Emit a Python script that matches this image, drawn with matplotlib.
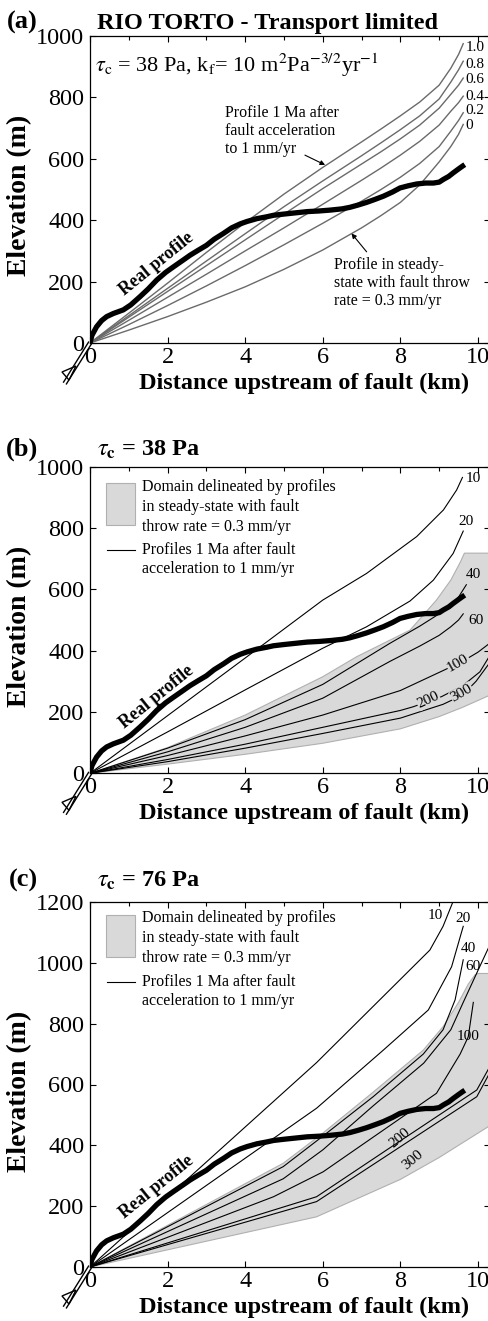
import numpy as np
import matplotlib
matplotlib.use('Agg')
import matplotlib.pyplot as plt
from matplotlib.ticker import MultipleLocator
from matplotlib.patches import Rectangle, Polygon
from matplotlib.lines import Line2D
from matplotlib.transforms import IdentityTransform

plt.rcParams['font.family'] = ['Liberation Serif', 'DejaVu Serif']
plt.rcParams['mathtext.fontset'] = 'stix'

# ---------------- data ----------------
real_x = [0, 0.05, 0.17, 0.3, 0.43, 0.6, 0.86, 1.05, 1.29, 1.5, 1.72, 1.95, 2.15, 2.4, 2.58, 2.8, 3.0,
          3.2, 3.44, 3.65, 3.87, 4.05, 4.3, 4.55, 4.73, 5.0, 5.3, 5.6, 5.9, 6.2, 6.5, 6.7, 6.9, 7.13,
          7.35, 7.56, 7.8, 7.99, 8.2, 8.42, 8.65, 8.85, 9.0, 9.11, 9.25, 9.36, 9.5, 9.6, 9.66]
real_y = [0, 25, 53, 73, 86, 96, 108, 124, 151, 176, 205, 230, 248, 270, 286, 303, 318,
          338, 357, 375, 388, 396, 405, 411, 416, 420, 424, 428, 430, 433, 437, 442, 449, 458,
          468, 478, 492, 505, 512, 518, 521, 521, 524, 533, 543, 554, 567, 576, 581]

# panel (a): profiles at successive times (Ma)
a_labels = ['1.0', '0.8', '0.6', '0.4', '0.2', '0']
a_x = [0, 1, 2, 3, 4, 5, 6, 7, 7.5, 8, 8.5, 9, 9.3, 9.5, 9.62]
a_curves = [
    [0, 97, 195, 295, 392, 485, 572, 655, 697, 740, 785, 840, 895, 940, 975],
    [0, 89, 178, 267, 356, 444, 528, 610, 652, 695, 740, 795, 850, 890, 918],
    [0, 84, 168, 252, 336, 420, 503, 583, 623, 665, 710, 765, 810, 840, 863],
    [0, 74, 149, 224, 300, 375, 452, 530, 570, 612, 657, 710, 755, 783, 804],
    [0, 60, 122, 186, 252, 320, 390, 462, 500, 540, 585, 640, 690, 725, 750],
    [0, 42, 86, 133, 183, 240, 303, 375, 415, 458, 515, 590, 640, 680, 712],
]
a_label_y = [962, 908, 859, 804, 756, 707]

# panel (b): tau_c = 38 Pa
b_dom_top_x = [0, 2, 4, 6, 6.87, 8.25, 8.93, 9.3, 9.55, 9.65, 10.31]
b_dom_top_y = [0, 84, 190, 315, 380, 467, 565, 630, 690, 718, 718]
b_dom_bot_x = [0, 2, 4, 6, 8, 9, 9.6, 10.31]
b_dom_bot_y = [0, 30, 62, 98, 145, 185, 215, 255]
b_names = ['10', '20', '40', '60', '100', '200', '300']
b_curves_x = [
    [0, 2, 4, 6, 7.13, 8.42, 9.11, 9.45, 9.6],
    [0, 2, 4, 6, 7.13, 8.25, 8.85, 9.36, 9.62],
    [0, 2, 4, 6, 7.73, 8.5, 9.0, 9.28, 9.5, 9.7],
    [0, 2, 4, 6, 7.73, 8.5, 9.0, 9.3, 9.5, 9.62],
    [0, 2, 4, 6, 8, 9.1, 9.6, 10.0, 10.31],
    [0, 2, 4, 6, 8, 8.33, 9.06, 9.6, 10.05, 10.31],
    [0, 2, 4, 6, 8, 9.1, 9.6, 9.95, 10.31],
]
b_curves_y = [
    [0, 188, 376, 565, 652, 772, 859, 924, 965],
    [0, 135, 272, 408, 478, 562, 630, 717, 790],
    [0, 82, 175, 290, 424, 480, 520, 540, 575, 615],
    [0, 70, 150, 245, 365, 415, 450, 478, 500, 520],
    [0, 58, 122, 190, 270, 335, 365, 395, 425],
    [0, 45, 95, 150, 205, 217, 250, 285, 331, 385],
    [0, 38, 82, 130, 180, 225, 255, 300, 362],
]
b_lab_xy = [(9.88, 960), (9.68, 822), (9.87, 647), (9.94, 497), (9.49, 360), (8.72, 239), (9.58, 262)]
b_lab_rot = [0, 0, 0, 0, 30, 25, 30]

# panel (c): tau_c = 76 Pa
c_dom_top_x = [0, 4.98, 6, 7.3, 8.59, 9.1, 9.5, 9.75, 9.92, 10.0, 10.31]
c_dom_top_y = [0, 341, 440, 575, 713, 790, 870, 930, 960, 965, 965]
c_dom_bot_x = [0, 5.84, 8, 9, 10.31]
c_dom_bot_y = [0, 165, 288, 360, 465]
c_names = ['10', '20', '40', '60', '100', '200', '300']
c_curves_x = [
    [0, 5.84, 8.76, 9.1, 9.4],
    [0, 5.84, 7.56, 8.72, 9.32, 9.62],
    [0, 4.98, 6, 7.3, 8.59, 9.1, 9.41, 9.62],
    [0, 4.98, 6, 7.3, 8.6, 9.3, 9.62, 10.0, 10.31],
    [0, 4.73, 6.01, 8.93, 9.54, 9.75, 9.88],
    [0, 5.84, 7.99, 9.97, 10.31],
    [0, 5.84, 8.33, 9.97, 10.31],
]
c_curves_y = [
    [0, 672, 1042, 1120, 1215],
    [0, 522, 713, 845, 987, 1120],
    [0, 330, 430, 560, 700, 780, 878, 1010],
    [0, 290, 385, 530, 670, 780, 870, 975, 1060],
    [0, 231, 313, 571, 700, 757, 870],
    [0, 231, 414, 582, 660],
    [0, 215, 423, 560, 640],
]
c_lab_xy = [(8.89, 1157), (9.62, 1146), (9.75, 1048), (9.88, 987), (9.75, 757), (7.99, 425), (8.33, 352)]
c_lab_rot = [0, 0, 0, 0, 0, 40, 40]

# ---------------- figure ----------------
W, H = 489, 1321
fig = plt.figure(figsize=(W / 100, H / 100), dpi=100)

def px_axes(left, right, top, bottom):
    return fig.add_axes([left / W, 1 - bottom / H, (right - left) / W, (bottom - top) / H])

FILL = '#d9d9d9'
FILL_EDGE = '#b0b0b0'

def setup(ax, ymax, xlab_off):
    ax.set_xlim(0, 10.31)
    ax.set_ylim(0, ymax)
    ax.set_xticks([0, 2, 4, 6, 8, 10])
    ax.xaxis.set_minor_locator(MultipleLocator(1))
    ax.set_yticks(list(range(0, ymax + 1, 200)))
    ax.tick_params(which='both', direction='in', top=True, right=True, labelsize=17.5, length=4,
                   width=0.8)
    ax.tick_params(which='minor', bottom=False, length=3)
    ax.tick_params(axis='x', pad=3)
    ax.tick_params(axis='y', pad=4)
    for s in ax.spines.values():
        s.set_linewidth(0.9)
    ax.set_xlabel('Distance upstream of fault (km)', fontsize=17.5, fontweight='bold')
    ax.xaxis.set_label_coords(0.536, xlab_off)
    ax.xaxis.label.set_verticalalignment('center')
    ax.set_ylabel('Elevation (m)', fontsize=20, fontweight='bold')
    ax.yaxis.set_label_coords(-0.175, 0.48)
    ax.yaxis.label.set_verticalalignment('center')

def fault(ax):
    ox, oy = ax.transData.transform((0, 0))
    d = np.array([-25.0, -40.0])
    n = np.array([40.0, -25.0]) / np.hypot(40, 25)
    for off in (-1.7, 1.7):
        p0 = np.array([ox, oy]) + off * n
        p1 = p0 + d
        fig.add_artist(Line2D([p0[0], p1[0]], [p0[1], p1[1]], transform=IdentityTransform(),
                              color='k', lw=1.0))
    tri = np.array([[-28, -29], [-14, -23], [-21, -37]], dtype=float) + [ox, oy]
    fig.add_artist(Polygon(tri, closed=True, transform=IdentityTransform(), facecolor='white',
                           edgecolor='k', lw=1.0))

def real_profile(ax, ytxt):
    ax.plot(real_x, real_y, color='k', lw=3.8, solid_capstyle='butt', zorder=5)
    ax.text(1.72, ytxt, 'Real profile', rotation=39, fontsize=13, fontweight='bold',
            ha='center', va='center', rotation_mode='anchor', zorder=6)

def legend(ax, rect_top, rect_bot, t1, l2):
    ax.add_patch(Rectangle((0.04, rect_bot), 0.0725, rect_top - rect_bot, transform=ax.transAxes,
                           facecolor=FILL, edgecolor=FILL_EDGE, lw=0.8, zorder=3))
    for i, s in enumerate(['Domain delineated by profiles', 'in steady-state with fault',
                           'throw rate = 0.3 mm/yr']):
        ax.text(0.13, t1 - i * 20 / ax.bbox.height, s, transform=ax.transAxes, fontsize=11.5,
                va='center', ha='left')
    ax.add_line(Line2D([0.0425, 0.1125], [l2, l2], transform=ax.transAxes, color='k', lw=0.8))
    for i, s in enumerate(['Profiles 1 Ma after fault', 'acceleration to 1 mm/yr']):
        ax.text(0.13, l2 - i * 19 / ax.bbox.height, s, transform=ax.transAxes, fontsize=11.5,
                va='center', ha='left')

def px2fig(x, y):
    return x / W, 1 - y / H

# ---------- panel (a) ----------
axa = px_axes(90, 490, 36, 343)
setup(axa, 1000, -0.13)
for ys, lab, ly in zip(a_curves, a_labels, a_label_y):
    axa.plot(a_x, ys, color='#6a6a6a', lw=1.0)
    axa.text(9.68, ly, lab, fontsize=11, ha='left', va='center')
real_profile(axa, 258)
axa.text(0.13, 883, r'$\tau_{\rm c}$ = 38 Pa, k$_{\rm f}$= 10 m$^{2}$Pa$^{-3/2}$yr$^{-1}$',
         fontsize=16, ha='left', va='baseline')
axa.text(3.48, 690, 'Profile 1 Ma after\nfault acceleration\nto 1 mm/yr', fontsize=11.5,
         ha='left', va='center', linespacing=1.15)
axa.annotate('', xy=(6.06, 580), xytext=(5.54, 612),
             arrowprops=dict(arrowstyle='-|>', color='k', lw=0.8, mutation_scale=7,
                             shrinkA=0, shrinkB=0))
axa.text(6.29, 195, 'Profile in steady-\nstate with fault throw\nrate = 0.3 mm/yr', fontsize=11.5,
         ha='left', va='center', linespacing=1.15)
axa.annotate('', xy=(6.74, 357), xytext=(7.13, 297),
             arrowprops=dict(arrowstyle='-|>', color='k', lw=0.8, mutation_scale=7,
                             shrinkA=0, shrinkB=0))
fx, fy = px2fig(38, 29)
fig.text(fx, fy, '(a)', fontsize=19, fontweight='bold', ha='right', va='baseline')
fx, fy = px2fig(97, 29)
fig.text(fx, fy, 'RIO TORTO - Transport limited', fontsize=17.5, fontweight='bold',
         ha='left', va='baseline')

# ---------- panel (b) ----------
axb = px_axes(90, 490, 466.7, 773.3)
setup(axb, 1000, -0.13)
axb.fill(b_dom_top_x + b_dom_bot_x[::-1], b_dom_top_y + b_dom_bot_y[::-1], facecolor=FILL,
         edgecolor=FILL_EDGE, lw=0.8, zorder=1)
for xs, ys in zip(b_curves_x, b_curves_y):
    axb.plot(xs, ys, color='k', lw=0.8, zorder=3)
for name, (lx, ly), rot in zip(b_names, b_lab_xy, b_lab_rot):
    kw = {}
    if rot:
        kw['bbox'] = dict(facecolor=FILL, edgecolor='none', pad=0.3)
    axb.text(lx, ly, name, fontsize=11, ha='center', va='center', rotation=rot, zorder=4, **kw)
real_profile(axb, 250)
legend(axb, 0.9465, 0.8097, 0.933, 0.728)
fx, fy = px2fig(38, 456)
fig.text(fx, fy, '(b)', fontsize=19, fontweight='bold', ha='right', va='baseline')
fx, fy = px2fig(97, 456)
fig.text(fx, fy, r'$\tau_{\mathbf{c}}$ = 38 Pa', fontsize=17.5, fontweight='bold',
         ha='left', va='baseline')

# ---------- panel (c) ----------
axc = px_axes(90, 490, 902, 1267)
setup(axc, 1200, -0.11)
axc.fill(c_dom_top_x + c_dom_bot_x[::-1], c_dom_top_y + c_dom_bot_y[::-1], facecolor=FILL,
         edgecolor=FILL_EDGE, lw=0.8, zorder=1)
for xs, ys in zip(c_curves_x, c_curves_y):
    axc.plot(xs, ys, color='k', lw=0.8, zorder=3)
for name, (lx, ly), rot in zip(c_names, c_lab_xy, c_lab_rot):
    axc.text(lx, ly, name, fontsize=11, ha='center', va='center', rotation=rot, zorder=4)
real_profile(axc, 262)
legend(axc, 0.964, 0.850, 0.956, 0.782)
fx, fy = px2fig(38, 887)
fig.text(fx, fy, '(c)', fontsize=19, fontweight='bold', ha='right', va='baseline')
fx, fy = px2fig(97, 887)
fig.text(fx, fy, r'$\tau_{\mathbf{c}}$ = 76 Pa', fontsize=17.5, fontweight='bold',
         ha='left', va='baseline')

for ax in (axa, axb, axc):
    fault(ax)

fig.savefig('out.png', dpi=100)
